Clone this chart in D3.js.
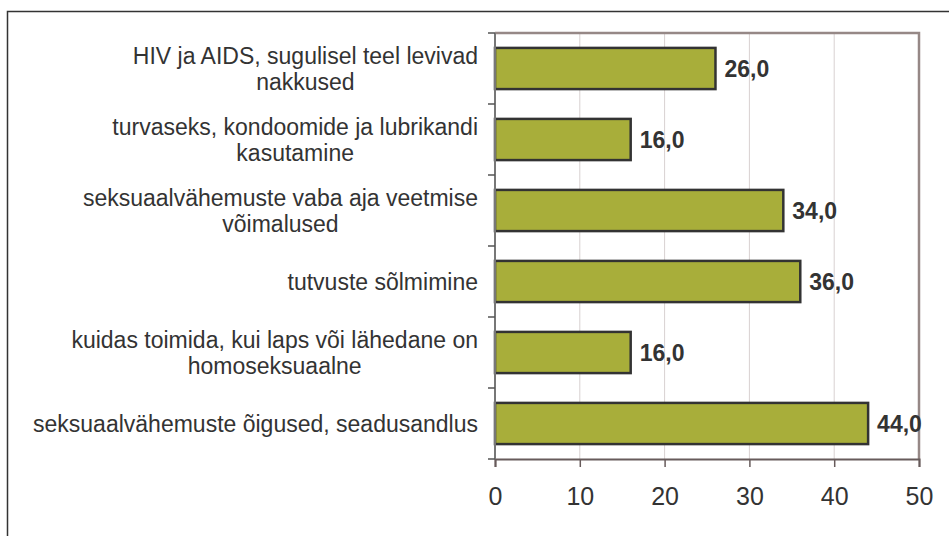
<!DOCTYPE html>
<html>
<head>
<meta charset="utf-8">
<script src="https://cdn.jsdelivr.net/npm/d3@7"></script>
<style>
  body { margin: 0; background: #fff; }
  text { font-family: "Liberation Sans", Arial, sans-serif; fill: #333; }
</style>
</head>
<body>
<svg id="chart"></svg>
<script>
// data
var categories = [
    ["HIV ja AIDS, sugulisel teel levivad", "nakkused"],
    ["turvaseks, kondoomide ja lubrikandi", "kasutamine"],
    ["seksuaalvähemuste vaba aja veetmise", "võimalused"],
    ["tutvuste sõlmimine"],
    ["kuidas toimida, kui laps või lähedane on", "homoseksuaalne"],
    ["seksuaalvähemuste õigused, seadusandlus"]
];
var values = [26, 16, 34, 36, 16, 44];
var xTicks = [0, 10, 20, 30, 40, 50];

var width = 949;
var height = 536;
var margin = {top: 33, right: 30, bottom: 77, left: 495};

var svg = d3.select('#chart')
    .attr('width', width)
    .attr('height', height);

// outer frame
svg.append('rect')
    .attr('x', 7.5).attr('y', 11.5)
    .attr('width', width + 10).attr('height', height + 10)
    .attr('fill', 'none')
    .attr('stroke', '#333')
    .attr('stroke-width', 1.5);

var x = d3.scaleLinear()
    .domain([0, 50])
    .range([margin.left, width - margin.right]);

var y = d3.scaleBand()
    .domain(d3.range(categories.length))
    .range([margin.top, height - margin.bottom])
    .paddingInner(0.42)
    .paddingOuter(0.21);

var plotTop = margin.top, plotBottom = height - margin.bottom;

// gridlines
svg.append('g')
    .selectAll('line')
    .data(xTicks.slice(1, -1))
    .enter()
    .append('line')
    .attr('x1', function(d) { return x(d); })
    .attr('x2', function(d) { return x(d); })
    .attr('y1', plotTop)
    .attr('y2', plotBottom)
    .attr('stroke', '#d8d1d1')
    .attr('stroke-width', 1);

// plot border top and right
svg.append('path')
    .attr('d', 'M' + x(0) + ',' + plotTop + 'H' + x(50) + 'V' + plotBottom)
    .attr('fill', 'none')
    .attr('stroke', '#968886')
    .attr('stroke-width', 2.5);

// bars
svg.append('g')
    .selectAll('rect')
    .data(values)
    .enter()
    .append('rect')
    .attr('x', x(0))
    .attr('y', function(d, i) { return y(i); })
    .attr('width', function(d) { return x(d) - x(0); })
    .attr('height', y.bandwidth())
    .attr('fill', '#a8ae3a')
    .attr('stroke', '#333')
    .attr('stroke-width', 2.5);

// value labels
svg.append('g')
    .selectAll('text')
    .data(values)
    .enter()
    .append('text')
    .attr('x', function(d) { return x(d) + 9; })
    .attr('y', function(d, i) { return y(i) + y.bandwidth() / 2; })
    .attr('dy', '0.36em')
    .style('font-size', '23px')
    .style('font-weight', 'bold')
    .text(function(d) { return d.toFixed(1).replace('.', ','); });

// x axis
var xAxis = svg.append('g')
    .attr('transform', 'translate(0,' + plotBottom + ')')
    .call(d3.axisBottom(x).tickValues(xTicks).tickSize(8).tickPadding(20));
xAxis.select('.domain').attr('stroke', '#675b5b').attr('stroke-width', 2);
xAxis.selectAll('.tick line').attr('stroke', '#675b5b').attr('stroke-width', 1.5);
xAxis.selectAll('text')
    .style('font-size', '25px')
    .style('font-family', '"Liberation Sans", Arial, sans-serif')
    .attr('fill', '#333');

// y axis (band boundaries as ticks)
var bounds = d3.range(categories.length + 1).map(function(i) {
    return plotTop + i * (plotBottom - plotTop) / categories.length;
});
svg.append('line')
    .attr('x1', x(0)).attr('x2', x(0))
    .attr('y1', plotTop).attr('y2', plotBottom)
    .attr('stroke', '#777')
    .attr('stroke-width', 2);
svg.append('g')
    .selectAll('line')
    .data(bounds)
    .enter()
    .append('line')
    .attr('x1', x(0) - 7).attr('x2', x(0))
    .attr('y1', function(d) { return d; })
    .attr('y2', function(d) { return d; })
    .attr('stroke', '#555')
    .attr('stroke-width', 1.5);

// category labels: block right aligned, lines centered
var labelRight = x(0) - 17;
var lineH = 26.5;
categories.forEach(function(lines, i) {
    var g = svg.append('g');
    var cy = y(i) + y.bandwidth() / 2;
    var texts = g.selectAll('text')
        .data(lines)
        .enter()
        .append('text')
        .attr('text-anchor', 'middle')
        .attr('y', function(d, j) { return cy + (j - (lines.length - 1) / 2) * lineH; })
        .attr('dy', '0.36em')
        .style('font-size', '23px')
        .text(function(d) { return d; });
    var maxW = 0;
    texts.each(function() { maxW = Math.max(maxW, this.getComputedTextLength()); });
    texts.attr('x', labelRight - maxW / 2);
});
</script>
</body>
</html>
